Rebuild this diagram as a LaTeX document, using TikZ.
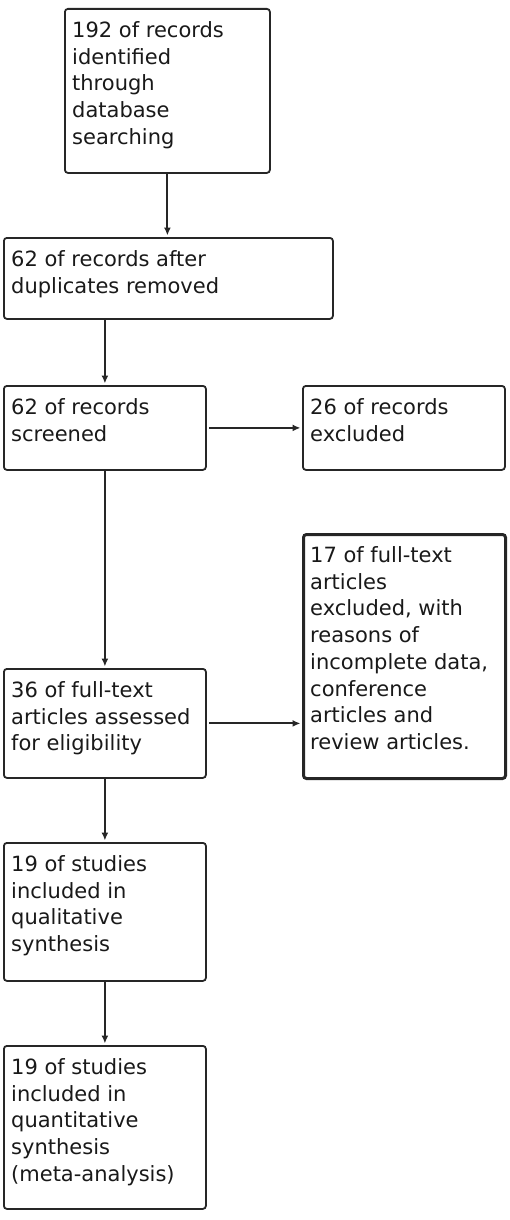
\documentclass[tikz,border=0pt]{standalone}
\usepackage{fontspec}
\setmainfont{DejaVu Sans}
\usetikzlibrary{arrows.meta}
\newcommand{\boxlines}[1]{\begin{tabular}[t]{@{}l@{}}#1\end{tabular}}
\begin{document}
\begin{tikzpicture}[x=1pt,y=-1pt,
  box/.style={draw=black!85, line width=1.8pt, rounded corners=3pt, anchor=north west, inner sep=0pt},
  thickbox/.style={box, line width=3pt},
  txt/.style={anchor=base west, inner sep=0pt, text=black!90, font=\fontsize{21}{26.7}\selectfont},
  arr/.style={draw=black!85, line width=2pt, -{Latex[length=8pt,width=7pt]}, shorten >=1.5pt}]
\useasboundingbox (0,0) rectangle (510,1220);
% boxes
\node[box, minimum width=205pt, minimum height=164pt] (b1) at (64,8) {};
\node[box, minimum width=329pt, minimum height=81pt] (b2) at (3,237) {};
\node[box, minimum width=202pt, minimum height=84pt] (b3) at (3,385) {};
\node[box, minimum width=202pt, minimum height=84pt] (b4) at (302,385) {};
\node[thickbox, minimum width=202pt, minimum height=244pt] (b5) at (302,533) {};
\node[box, minimum width=202pt, minimum height=109pt] (b6) at (3,668) {};
\node[box, minimum width=202pt, minimum height=138pt] (b7) at (3,842) {};
\node[box, minimum width=202pt, minimum height=163pt] (b8) at (3,1045) {};
% texts
\node[txt] (t1) at ([xshift=8pt,yshift=-29.5pt]b1.north west) {\boxlines{192 of records\\identified\\through\\database\\searching}};
\node[txt] (t2) at ([xshift=8pt,yshift=-29.5pt]b2.north west) {\boxlines{62 of records after\\duplicates removed}};
\node[txt] (t3) at ([xshift=8pt,yshift=-29.5pt]b3.north west) {\boxlines{62 of records\\screened}};
\node[txt] (t4) at ([xshift=8pt,yshift=-29.5pt]b4.north west) {\boxlines{26 of records\\excluded}};
\node[txt] (t5) at ([xshift=8pt,yshift=-29.5pt]b5.north west) {\boxlines{17 of full-text\\articles\\excluded, with\\reasons of\\incomplete data,\\conference\\articles and\\review articles.}};
\node[txt] (t6) at ([xshift=8pt,yshift=-29.5pt]b6.north west) {\boxlines{36 of full-text\\articles assessed\\for eligibility}};
\node[txt] (t7) at ([xshift=8pt,yshift=-29.5pt]b7.north west) {\boxlines{19 of studies\\included in\\qualitative\\synthesis}};
\node[txt] (t8) at ([xshift=8pt,yshift=-29.5pt]b8.north west) {\boxlines{19 of studies\\included in\\quantitative\\synthesis\\(meta-analysis)}};
% connectors
\draw[arr] (b1.south) -- (b1.south |- b2.north);
\draw[arr] (b3.north |- b2.south) -- (b3.north);
\draw[arr, shorten <=2.5pt] (b3.east) -- (b3.east -| b4.west);
\draw[arr] (b3.south) -- (b6.north);
\draw[arr, shorten <=2.5pt] (b6.east) -- (b6.east -| b5.west);
\draw[arr] (b6.south) -- (b7.north);
\draw[arr] (b7.south) -- (b8.north);
\end{tikzpicture}
\end{document}
